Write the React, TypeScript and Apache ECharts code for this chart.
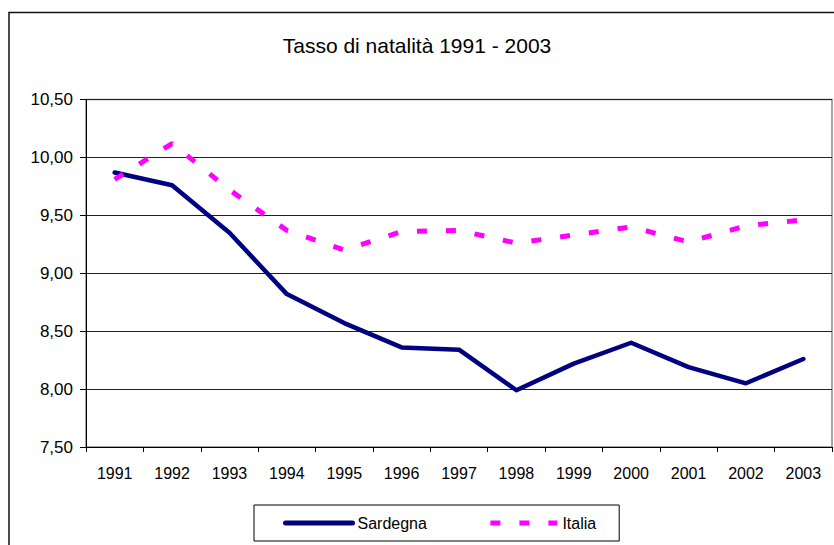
import React, { useEffect, useRef } from "react";
import * as echarts from "echarts";

const years = ["1991", "1992", "1993", "1994", "1995", "1996", "1997", "1998", "1999", "2000", "2001", "2002", "2003"];
const sardegna = [9.87, 9.76, 9.35, 8.82, 8.57, 8.36, 8.34, 7.99, 8.22, 8.40, 8.19, 8.05, 8.26];
const italia = [9.81, 10.12, 9.72, 9.37, 9.20, 9.36, 9.37, 9.26, 9.33, 9.40, 9.27, 9.41, 9.46];
const titleText = "Tasso di natalità 1991 - 2003";
const yMin = 7.5;
const yMax = 10.5;
const yStep = 0.5;

const FONT = "'Liberation Sans', Arial, sans-serif";

export default function App() {
  const ref = useRef<HTMLDivElement>(null);
  useEffect(() => {
    if (!ref.current) return;
    const chart = echarts.init(ref.current, null, { renderer: "svg" });
    chart.setOption({
      animation: false,
      backgroundColor: "#ffffff",
      textStyle: { fontFamily: FONT },
      title: {
        text: titleText,
        left: "center",
        top: 30,
        textStyle: { fontFamily: FONT, fontSize: 21, fontWeight: "normal", color: "#000" },
      },
      graphic: [
        {
          type: "rect",
          shape: { x: 9, y: 12.5, width: 900, height: 600 },
          style: { fill: "none", stroke: "#111", lineWidth: 1.5 },
          silent: true,
        },
      ],
      legend: {
        left: 254,
        top: 505,
        orient: "horizontal",
        itemWidth: 67,
        itemHeight: 14,
        itemGap: 61,
        padding: [10, 23, 10, 29],
        borderColor: "#000",
        borderWidth: 1,
        itemStyle: { opacity: 0 },
        lineStyle: { width: 5 },
        textStyle: { fontFamily: FONT, fontSize: 16, color: "#000", padding: [0, 0, 0, 0] },
        data: ["Sardegna", "Italia"],
      },
      grid: {
        left: 86,
        top: 99.5,
        width: 746,
        height: 347.5,
        show: true,
        borderColor: "#888",
        borderWidth: 1.5,
        backgroundColor: "transparent",
      },
      xAxis: {
        type: "category",
        data: years,
        boundaryGap: true,
        axisLine: { show: true, lineStyle: { color: "#000", width: 1 } },
        axisTick: { show: true, length: 5, inside: false, alignWithLabel: false, lineStyle: { color: "#000" } },
        axisLabel: { interval: 0, margin: 18, fontFamily: FONT, fontSize: 16, color: "#000" },
        splitLine: { show: false },
      },
      yAxis: {
        type: "value",
        min: yMin,
        max: yMax,
        interval: yStep,
        axisLine: { show: true, lineStyle: { color: "#000", width: 1 } },
        axisTick: { show: true, length: 6, inside: false, lineStyle: { color: "#000" } },
        axisLabel: {
          margin: 13,
          fontFamily: FONT,
          fontSize: 17,
          color: "#000",
          formatter: (v: number) => v.toFixed(2).replace(".", ","),
        },
        splitLine: { show: true, lineStyle: { color: "#222", width: 1 } },
      },
      series: [
        {
          name: "Sardegna",
          type: "line",
          data: sardegna,
          symbol: "none",
          showSymbol: false,
          lineStyle: { color: "#000080", width: 4.5, cap: "round", join: "round" },
          itemStyle: { color: "#000080" },
        },
        {
          name: "Italia",
          type: "line",
          data: italia,
          symbol: "none",
          showSymbol: false,
          lineStyle: { color: "#FF00FF", width: 5, type: [10, 19] },
          itemStyle: { color: "#FF00FF" },
        },
      ],
    });
    return () => chart.dispose();
  }, []);
  return (
    <div
      ref={ref}
      style={{ position: "fixed", left: 0, top: 0, width: 834, height: 545, background: "#fff" }}
    />
  );
}
